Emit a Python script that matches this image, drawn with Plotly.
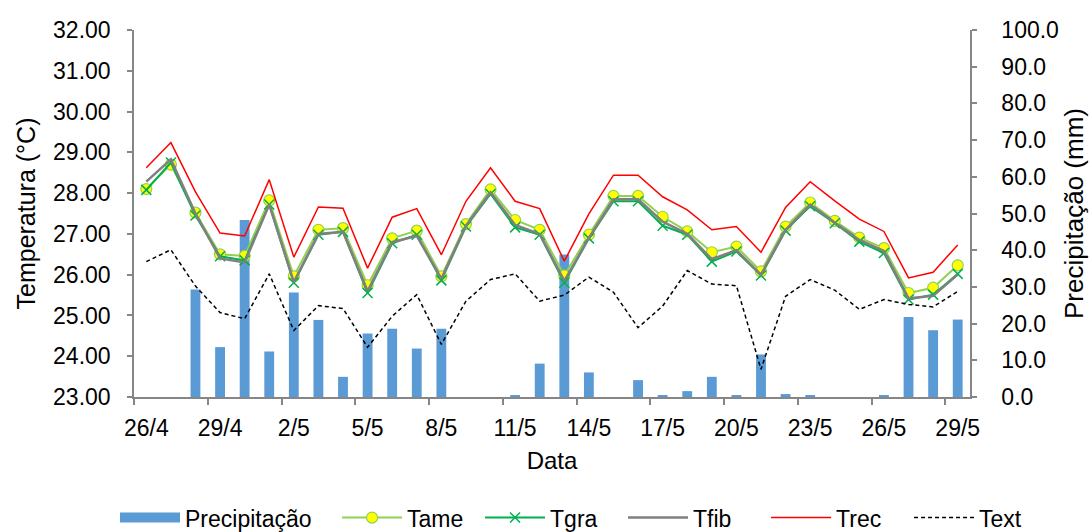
import plotly.graph_objects as go

# Daily dates (26 April to 29 May)
dates = ["26/4", "27/4", "28/4", "29/4", "30/4"] + [f"{d}/5" for d in range(1, 30)]

# Rainfall (mm)
precipitacao = [0, 0, 29.3, 13.6, 48.2, 12.4, 28.5, 21.0, 5.5, 17.3, 18.6, 13.2, 18.6, 0, 0, 0.3,
                9.1, 38.8, 6.7, 0, 4.6, 0.3, 1.6, 5.5, 0.3, 11.6, 0.8, 0.3, 0, 0, 0.3, 21.8, 18.2, 21.1]

# Temperatures (°C)
tame = [28.10, 28.70, 27.52, 26.50, 26.46, 27.82, 25.96, 27.10, 27.14, 25.74, 26.89, 27.08, 25.96,
        27.24, 28.09, 27.34, 27.10, 25.98, 26.98, 27.93, 27.93, 27.42, 27.06, 26.55, 26.69, 26.08,
        27.18, 27.77, 27.32, 26.91, 26.65, 25.55, 25.68, 26.23]
tgra = [28.08, 28.75, 27.45, 26.45, 26.35, 27.72, 25.80, 26.98, 27.05, 25.55, 26.77, 26.98, 25.86,
        27.18, 27.98, 27.16, 26.98, 25.80, 26.89, 27.80, 27.80, 27.20, 26.98, 26.32, 26.57, 25.98,
        27.08, 27.68, 27.26, 26.81, 26.53, 25.39, 25.51, 26.02]
tfib = [28.28, 28.83, 27.50, 26.40, 26.30, 27.72, 25.82, 27.00, 27.05, 25.60, 26.80, 26.95, 25.90,
        27.20, 28.02, 27.22, 27.00, 25.85, 26.90, 27.85, 27.85, 27.30, 27.00, 26.38, 26.60, 26.00,
        27.10, 27.72, 27.28, 26.85, 26.58, 25.42, 25.48, 26.00]
trec = [28.62, 29.24, 28.03, 27.02, 26.95, 28.33, 26.43, 27.66, 27.63, 26.16, 27.41, 27.62, 26.49,
        27.80, 28.62, 27.80, 27.62, 26.33, 27.49, 28.44, 28.44, 27.91, 27.59, 27.10, 27.18, 26.55,
        27.65, 28.28, 27.81, 27.36, 27.06, 25.92, 26.06, 26.73]
text_ = [26.32, 26.61, 25.72, 25.07, 24.92, 26.02, 24.63, 25.24, 25.17, 24.22, 24.98, 25.51, 24.29,
         25.35, 25.88, 26.02, 25.35, 25.50, 25.94, 25.57, 24.70, 25.23, 26.10, 25.77, 25.73, 23.68,
         25.47, 25.88, 25.62, 25.15, 25.39, 25.27, 25.21, 25.59]

x = list(range(len(dates)))
FONT = "Liberation Sans, Arial, sans-serif"
AXIS_COLOR = "#868686"
BAR_COLOR = "#5B9BD5"

fig = go.Figure()

# Rainfall bars; their legend key is drawn as a wide swatch by a legend-only entry
fig.add_trace(go.Bar(x=x, y=precipitacao, name="Precipitação", width=0.4,
                     marker=dict(color=BAR_COLOR, line=dict(width=0)), yaxis="y",
                     legendgroup="precip", showlegend=False))
fig.add_trace(go.Scatter(x=[None], y=[None], name="Precipitação", mode="lines",
                         line=dict(color=BAR_COLOR, width=15), yaxis="y",
                         legendgroup="precip", legend="legend"))

fig.add_trace(go.Scatter(x=x, y=tame, name="Tame", mode="lines+markers", yaxis="y2",
                         line=dict(color="#92D050", width=2), legend="legend2",
                         marker=dict(symbol="circle", size=11, color="#FFFF00",
                                     line=dict(color="#92D050", width=1.2))))
fig.add_trace(go.Scatter(x=x, y=tgra, name="Tgra", mode="lines+markers", yaxis="y2",
                         line=dict(color="#00B050", width=2), legend="legend2",
                         marker=dict(symbol="x-thin", size=10, color="#00B050",
                                     line=dict(color="#00B050", width=1.5))))
fig.add_trace(go.Scatter(x=x, y=tfib, name="Tfib", mode="lines", yaxis="y2", legend="legend2",
                         line=dict(color="#808080", width=2.5)))
fig.add_trace(go.Scatter(x=x, y=trec, name="Trec", mode="lines", yaxis="y2", legend="legend2",
                         line=dict(color="#FF0000", width=1.5)))
fig.add_trace(go.Scatter(x=x, y=text_, name="Text", mode="lines", yaxis="y2", legend="legend2",
                         line=dict(color="#000000", width=1.5, dash="4px,3px")))

tick_idx = x[::3]
legend_common = dict(orientation="h", xref="container", yref="container",
                     xanchor="left", y=0.027, yanchor="middle",
                     font=dict(size=23), itemwidth=60, bgcolor="rgba(0,0,0,0)")

fig.update_layout(
    width=1089, height=532,
    margin=dict(l=134, r=119, t=30, b=135, autoexpand=False),
    paper_bgcolor="white", plot_bgcolor="white",
    font=dict(family=FONT, size=23, color="#000000"),
    showlegend=True,
    legend=dict(x=0.1056, **legend_common),
    legend2=dict(x=0.3095, entrywidth=68, entrywidthmode="pixels", **legend_common),
    xaxis=dict(range=[-0.5, 33.5], showgrid=False, zeroline=False, automargin=False,
               showline=True, linecolor=AXIS_COLOR, linewidth=1.5,
               tickmode="array", tickvals=tick_idx, ticktext=[dates[i] for i in tick_idx],
               ticks="", ticklabelstandoff=10,
               minor=dict(tickmode="linear", tick0=-0.5, dtick=3, ticks="outside",
                          ticklen=6, tickcolor=AXIS_COLOR, tickwidth=1.5),
               title=dict(text="Data", standoff=12, font=dict(size=24))),
    yaxis=dict(range=[0, 100], side="right", showgrid=False, zeroline=False, automargin=False,
               showline=True, linecolor=AXIS_COLOR, linewidth=1.5,
               tickmode="linear", tick0=0, dtick=10, tickformat=".1f",
               ticks="outside", ticklen=5, tickcolor=AXIS_COLOR, tickwidth=1.5,
               ticklabelstandoff=20,
               title=dict(text="Precipitação (mm)", standoff=12, font=dict(size=26))),
    yaxis2=dict(range=[23, 32], side="left", overlaying="y", anchor="x", automargin=False,
                showgrid=False, zeroline=False,
                showline=True, linecolor=AXIS_COLOR, linewidth=1.5,
                tickmode="linear", tick0=23, dtick=1, tickformat=".2f",
                ticks="outside", ticklen=5, tickcolor=AXIS_COLOR, tickwidth=1.5,
                ticklabelstandoff=12,
                title=dict(text="Temperatura (°C)", standoff=10, font=dict(size=25))),
    bargap=0.6,
)

fig.write_html("out.html")
